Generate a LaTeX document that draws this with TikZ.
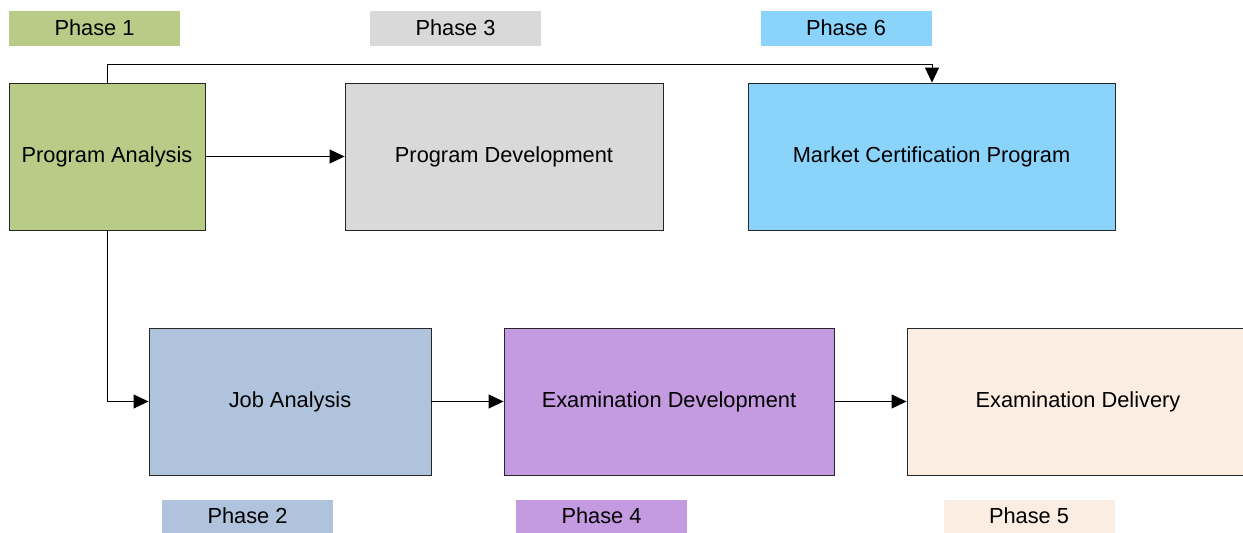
\documentclass[tikz,border=0pt]{standalone}
\usepackage{fontspec}
\setmainfont{Liberation Sans}
\usetikzlibrary{arrows.meta}
\definecolor{cgreen}{HTML}{B8CC88}
\definecolor{cgray}{HTML}{D9D9D9}
\definecolor{cblue}{HTML}{8AD4FB}
\definecolor{csteel}{HTML}{B0C3DC}
\definecolor{cviolet}{HTML}{C49AE0}
\definecolor{cpeach}{HTML}{FCEDE2}
\tikzset{
  box/.style={draw=black!85, line width=0.9pt, minimum height=147pt, inner sep=0pt, font=\fontsize{21.8}{25}\selectfont},
  phase/.style={draw=none, minimum width=171pt, minimum height=35pt, inner sep=0pt, font=\fontsize{21.8}{25}\selectfont},
  conn/.style={line width=0.9pt, -{Triangle[length=15pt,width=14pt]}},
}
\begin{document}
\begin{tikzpicture}[x=1pt,y=-1pt]
\useasboundingbox (0,0) rectangle (1243,533);
% phase labels
\node[phase, fill=cgreen] (p1) at (94.5,28) {\raisebox{-1pt}{Phase 1}};
\node[phase, fill=cgray] (p3) at (455.5,28) {\raisebox{-1pt}{Phase 3}};
\node[phase, fill=cblue] (p6) at (846,28) {\raisebox{-1pt}{Phase 6}};
\node[phase, fill=csteel, minimum height=33pt] (p2) at (247.5,516) {\raisebox{-1pt}{Phase 2}};
\node[phase, fill=cviolet, minimum height=33pt] (p4) at (601.5,516) {\raisebox{-1pt}{Phase 4}};
\node[phase, fill=cpeach, minimum height=33pt] (p5) at (1029,516) {\raisebox{-1pt}{Phase 5}};
% boxes
\node[box, fill=cgreen, minimum width=196pt] (pa) at (107,156.5) {\raisebox{-1.5pt}{Program Analysis}};
\node[box, fill=cgray, minimum width=318pt] (pd) at (504,156.5) {\raisebox{-1.5pt}{Program Development}};
\node[box, fill=cblue, minimum width=367pt] (mc) at (931.5,156.5) {\raisebox{-1.5pt}{Market Certification Program}};
\node[box, fill=csteel, minimum width=282pt] (ja) at (290,401.5) {\raisebox{-1.5pt}{Job Analysis}};
\node[box, fill=cviolet, minimum width=330pt] (ed) at (669,401.5) {\raisebox{-1.5pt}{Examination Development}};
\node[box, fill=cpeach, minimum width=342pt] (edl) at (1078,401.5) {\raisebox{-1.5pt}{Examination Delivery}};
% connectors
\coordinate (tl) at (107,64);
\coordinate (tr) at (932,64);
\coordinate (bl) at (107,401.5);
\draw[conn] (pa.north) -- (tl) -- (tr) -- (mc.north -| tr);
\draw[conn] (pa.east) -- (pd.west);
\draw[conn] (pa.south) -- (bl) -- (ja.west);
\draw[conn] (ja.east) -- (ed.west);
\draw[conn] (ed.east) -- (edl.west);
\end{tikzpicture}
\end{document}
